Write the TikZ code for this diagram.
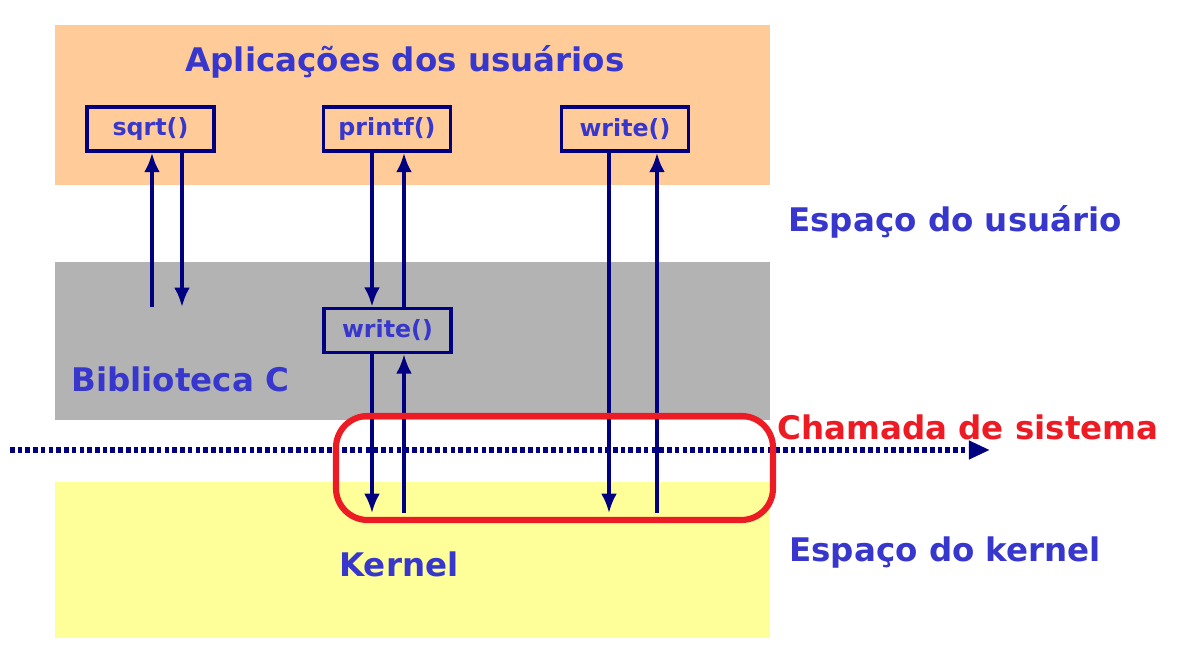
\documentclass[tikz,border=0pt]{standalone}
\usepackage{fontspec}
\setmainfont{DejaVu Sans}
\usetikzlibrary{arrows.meta}
\definecolor{appband}{RGB}{255,204,153}
\definecolor{libband}{RGB}{179,179,179}
\definecolor{kernband}{RGB}{255,255,153}
\definecolor{labelblue}{RGB}{55,55,205}
\definecolor{callnavy}{RGB}{0,0,128}
\definecolor{sysred}{RGB}{237,28,36}

\begin{document}
\begin{tikzpicture}[x=0.02cm,y=-0.02cm,
		funcbox/.style={draw=callnavy,line width=2pt,minimum width=2.54cm,minimum height=0.88cm,inner sep=0pt,text=labelblue,font=\fontsize{13.5}{15}\selectfont\bfseries},
		bandlabel/.style={anchor=west,inner sep=0pt,text=labelblue,font=\fontsize{18.5}{21}\selectfont\bfseries},
		callarrow/.style={draw=callnavy,line width=2.4pt,-{Latex[length=11pt,width=9pt]}}]
		\useasboundingbox (0,0) rectangle (1178,668);

		% Bands
		\fill[appband] (55,25) rectangle (770,185);
		\fill[libband] (55,262) rectangle (770,420);
		\fill[kernband] (55,482) rectangle (770,638);

		% User applications
		\node[bandlabel,anchor=center] (apps) at (405,62) {Aplicações dos usuários};
		\node[funcbox] (sqrt) at (150.5,129) {sqrt()};
		\node[funcbox] (printf) at (387,129) {printf()};
		\node[funcbox] (appwrite) at (625,129) {write()};

		% C library
		\node[funcbox] (libwrite) at (387.5,330.5) {write()};
		\node[bandlabel] (libc) at (71,379) {Biblioteca C};
		\coordinate (sqrtup) at (152,307);
		\coordinate (sqrtdown) at (182,307);

		% Kernel
		\node[bandlabel] (kernel) at (339,564) {Kernel};
		\coordinate (libdown) at (372,513);
		\coordinate (libup) at (404,513);
		\coordinate (appdown) at (609,513);
		\coordinate (appup) at (657,513);

		% Calls and returns
		\draw[callarrow] (sqrtup) -- (sqrt.south -| sqrtup);
		\draw[callarrow] (sqrt.south -| sqrtdown) -- (sqrtdown);
		\draw[callarrow] (printf.south -| libdown) -- (libwrite.north -| libdown);
		\draw[callarrow] (libwrite.north -| libup) -- (printf.south -| libup);
		\draw[callarrow,line width=1.9pt] (libwrite.south -| libdown) -- (libdown);
		\draw[callarrow,line width=1.9pt] (libup) -- (libwrite.south -| libup);
		\draw[callarrow,line width=1.9pt] (appwrite.south -| appdown) -- (appdown);
		\draw[callarrow] (appup) -- (appwrite.south -| appup);

		% User/kernel boundary
		\coordinate (borderL) at (10,450);
		\coordinate (borderR) at (990,450);
		\draw[callnavy,line width=3pt,dash pattern=on 2.6pt off 1.8pt,-{Triangle[length=12pt,width=10pt]}] (borderL) -- (borderR);

		% System call
		\draw[sysred,line width=3.5pt,rounded corners=18] (336,416) rectangle (773,520);
		\node[bandlabel,text=sysred] (syscall) at (777,427) {Chamada de sistema};

		% Spaces
		\node[bandlabel] (userspace) at (788,222) {Espaço do usuário};
		\node[bandlabel] (kernelspace) at (789,553) {Espaço do kernel};
	\end{tikzpicture}
\end{document}
